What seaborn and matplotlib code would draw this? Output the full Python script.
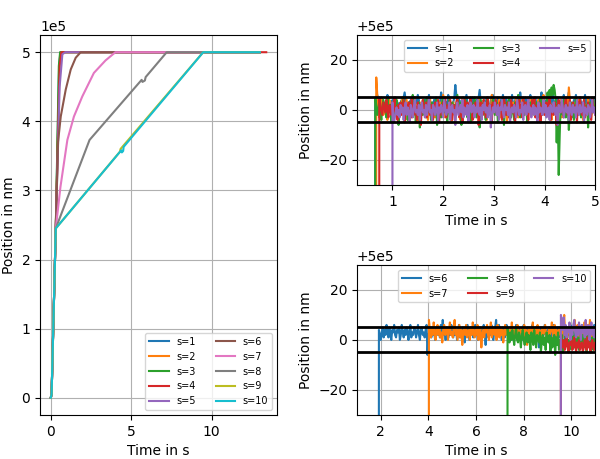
import numpy as np
import matplotlib
matplotlib.use("Agg")
import matplotlib.pyplot as plt
import seaborn as sns

# ---------------- left panel: full trajectories (time in s, position in nm) ----------------
t_s1 = [0, 0.05, 0.31, 0.52, 0.60, 13.0]
p_s1 = [0, 5000, 245000, 480000, 500000, 500000]
t_s2 = [0, 0.05, 0.31, 0.54, 0.63, 13.0]
p_s2 = [0, 5000, 245000, 480000, 500000, 500000]
t_s3 = [0, 0.05, 0.31, 0.50, 0.58, 13.0]
p_s3 = [0, 5000, 245000, 480000, 500000, 500000]
t_s4 = [0, 0.05, 0.31, 0.55, 0.66, 13.4]
p_s4 = [0, 5000, 245000, 480000, 500000, 500000]
t_s5 = [0, 0.05, 0.31, 0.55, 0.72, 0.90, 13.0]
p_s5 = [0, 5000, 245000, 450000, 497000, 500000, 500000]
t_s6 = [0, 0.05, 0.31, 0.45, 0.62, 0.93, 1.24, 1.55, 1.86, 13.0]
p_s6 = [0, 5000, 245000, 370000, 407000, 446000, 475000, 492000, 500000, 500000]
t_s7 = [0, 0.05, 0.31, 0.60, 1.03, 1.44, 1.96, 2.68, 3.40, 4.02, 13.0]
p_s7 = [0, 5000, 245000, 305000, 373000, 407000, 436000, 470000, 488000, 500000, 500000]
t_s8 = [0, 0.05, 0.31, 2.41, 5.65, 5.70, 5.85, 5.90, 7.21, 13.0]
p_s8 = [0, 5000, 245000, 373000, 460000, 457000, 459000, 464000, 500000, 500000]
t_s9 = [0, 0.05, 0.31, 4.30, 4.34, 9.48, 13.0]
p_s9 = [0, 5000, 245000, 356000, 360000, 500000, 500000]
t_s10 = [0, 0.05, 0.31, 4.38, 4.42, 4.50, 4.53, 9.48, 13.0]
p_s10 = [0, 5000, 245000, 358000, 355000, 357000, 363000, 500000, 500000]

left_times = [t_s1, t_s2, t_s3, t_s4, t_s5, t_s6, t_s7, t_s8, t_s9, t_s10]
left_pos = [p_s1, p_s2, p_s3, p_s4, p_s5, p_s6, p_s7, p_s8, p_s9, p_s10]
labels_left = [f"s={i}" for i in range(1, 11)]

# ---------------- right panels: settling, deviation from target (nm) ----------------
target = 500000
tolerance = 5

# top panel (s=1..5): start time (s), sample step (s), deviation values (nm)
start_top = [0.64, 0.66, 0.64, 0.72, 0.98]
dt_top = 0.02
dev_s1 = [-900, 3, 5, 6, 2, 1, 3, 5, 4, 2, 0, 1, 4, 6, 5, 3, 1, 2, 4, 3,
          1, 5, 2, 3, 0, -1, 2, 4, 3, 5, 7, 4, 2, 1, 3, 2, 4, 0, 1, 3,
          5, 3, 2, 6, 4, 1, 2, -2, 0, 3, 4, 2, 5, 3, 6, 1, 2, 3, 0, 4,
          2, 5, 3, 1, 0, 3, 7, 5, 2, 4, 1, 3, 2, 6, 4, 1, -1, 2, 3, 5,
          10, 6, 3, 2, 4, 1, 0, 3, 5, 2, 4, 6, 3, 1, 2, 4, 3, 5, 2, 3,
          1, 4, 2, 5, 8, 3, 2, 0, 4, 1, 3, 5, 2, -2, 1, 4, 3, 6, 2, 4,
          1, 3, 5, 2, 0, 4, 3, 6, 2, 1, 5, 3, 2, 4, 0, 3, 6, 1, 2, 4,
          3, 5, 1, 2, 7, 4, 2, 3, 0, 5, 2, 4, 1, 3, 6, 2, 4, 1, 3, 5,
          2, 0, 4, 3, 1, 7, 3, 2, 4, -1, 2, 5, 3, 4, 1, 3, 6, 2, 0, 4,
          3, 5, 1, 2, 4, 3, 0, 6, 2, 1, 4, 5, 7, 2, 3, -3, 1, 4, 3, 6,
          2, 4, 1, 5, 3, 0, 2, 4, 6, 2, 3, 5, 1, 4, 2, 3, 0, 5, 2, 4,
          3, 1, 4]
dev_s2 = [-900, 13, 6, 0, -3, 2, 5, 1, -2, 0, 3, 1, -4, 2, 4, 0, -1, 3, 1, -2,
          0, 4, -3, 1, 2, -1, 3, 5, 0, -2, 1, 4, -4, 0, 2, 1, -3, 3, 0, 5,
          -1, 2, -5, 1, 3, 0, -2, 4, 1, -1, 2, 0, -4, 3, 5, 1, -2, 0, 2, -3,
          1, 4, 0, -1, 3, -2, 1, 6, 0, -3, 2, 1, -1, 4, 0, -5, 2, 3, -2, 1,
          0, 3, -1, 2, -4, 1, 5, 0, -2, 3, 1, -1, 2, 0, 4, -3, 1, 2, -2, 0,
          3, -1, 5, 1, -3, 0, 2, 4, -1, 1, -4, 3, 0, 2, -2, 6, 1, -1, 0, 3,
          -2, 1, 4, 0, -3, 2, 1, -1, 3, 0, -5, 2, 4, 1, -2, 0, 3, -1, 2, 5,
          0, -3, 1, 2, -1, 4, 0, -2, 3, 1, -4, 0, 2, 5, -1, 1, 3, -2, 0, 2,
          -1, 4, 1, -3, 0, 2, 6, 1, -2, 3, 0, -1, 4, 2, -4, 1, 0, 3, -2, 1,
          2, -1, 0, 4, -3, 1, 3, 0, -2, 5, 1, 9, 4, -1, 2, 0, -3, 3, 1, -2,
          0, 4, 2, -1, 1, -4, 3, 0, 2, -2, 5, 1, 0, -3, 2, 4, -1, 1, 3, 0,
          -2, 2, 1]
dev_s3 = [-900, 5, 2, -2, 0, 3, -1, -4, 1, 4, 2, 0, -3, 5, 1, -1, 2, -5, 0, 3,
          1, -2, 4, 0, -6, 2, 3, -1, 1, 5, -3, 0, 2, -4, 1, 3, -2, 0, 6, -1,
          2, -5, 1, 0, 3, -7, 2, 1, -2, 4, 0, -3, 5, 1, -1, 2, -4, 3, 0, 1,
          -2, 4, -6, 1, 2, 0, -3, 3, 5, -1, 0, 2, -5, 1, 4, -2, 0, 3, -1, 2,
          -4, 1, 6, 0, -2, 3, -6, 1, 2, -1, 4, 0, -3, 2, 1, -5, 3, 0, -1, 5,
          1, -3, 2, 0, -7, 4, 1, -2, 3, 0, -4, 2, 5, -1, 1, 0, -3, 4, 2, -2,
          0, 3, -5, 1, 2, -1, 4, 0, -6, 2, 3, -2, 1, 5, 0, -3, 2, 1, -4, 3,
          0, -1, 6, 2, -3, 1, 0, 4, -2, 3, 1, -5, 2, 0, 3, -1, 4, 1, -2, 0,
          3, 1, -3, 2, 5, 0, -2, 4, 1, -1, 3, 7, 4, 8, 5, 9, 6, 10, 8, 4,
          -13, 2, -26, -10, 3, 1, -2, 4, 0, -3, 2, 1, -8, 0, 3, -1, 2, -4, 1, 5,
          0, -2, 3, 1, -3, 2, 0, 4, -1, 1, 2, -7, 0, 3, -2, 1, 4, 0, -1, 2,
          1, -3, 2]
dev_s4 = [-900, 5, 2, 0, -2, 3, 1, -1, 4, 0, -3, 2, 1, -2, 3, 0, 5, -1, 1, -4,
          2, 0, 3, -2, 1, 4, -5, 0, 2, -1, 3, 1, -3, 5, 0, -2, 2, 1, -4, 3,
          0, 1, -6, 2, 4, -1, 0, 3, -3, 1, 5, -2, 0, 2, -4, 1, 3, 0, -1, 4,
          -5, 2, 1, -2, 3, 0, 5, -3, 1, 2, -1, 4, 0, -4, 2, 1, -2, 3, 5, 0,
          -3, 1, 2, -5, 0, 4, 1, -1, 3, -2, 0, 5, 2, -4, 1, 0, 3, -1, 2, -6,
          1, 3, 0, -2, 4, 2, -3, 1, 5, 0, -1, 2, -5, 3, 1, 0, 4, -2, 2, -1,
          3, 0, -4, 1, 5, 2, -2, 0, 3, -3, 1, 4, -1, 2, 0, -5, 3, 1, -2, 4,
          0, 2, -3, 5, 1, -1, 3, 0, -4, 2, 1, -2, 4, 0, 5, -3, 1, 2, -1, 3,
          -5, 0, 2, 4, -2, 1, 3, -1, 0, 5, -4, 2, 1, -2, 3, 0, -6, 2, 4, 1,
          -1, 3, 0, -3, 2, 5, 1, -2, 0, 4, -4, 1, 3, 0, -1, 2, -5, 3, 1, 5,
          0, -2, 2, 4, -3, 1, 0, 3, -1, 2, -4, 5, 1, 0, -2, 3, 1, -1, 4, 0]
dev_s5 = [-900, 3, -5, -4, -1, 1, -2, 0, -3, 2, -1, 1, -4, 0, 3, -2, 1, -1, -5, 2,
          0, -3, 1, 4, -1, 0, -2, 2, -4, 1, 3, -1, 0, -3, 2, -2, 1, 5, -1, 0,
          -4, 2, 1, -2, 0, 3, -5, 1, -1, 2, 0, -3, 4, 1, -2, 0, -1, 3, -4, 1,
          2, -1, 0, -6, 1, 3, -2, 0, 2, -1, 4, -3, 1, 0, -2, 2, -5, 1, 3, -1,
          0, 2, -3, 1, -1, 4, 0, -2, 1, -4, 2, 0, 3, -1, 1, -3, 0, 2, -7, -2,
          1, -1, 3, 0, -2, 2, -4, 1, 0, 4, -1, -3, 2, 0, 1, -2, 3, -5, 0, 1,
          -1, 2, 0, -3, 4, 1, -2, 0, -1, 3, -4, 1, 2, -2, 0, 5, -1, 1, -3, 0,
          2, -2, 1, 0, -5, 3, -1, 1, 0, -2, 4, -1, 2, -3, 0, 1, -4, 2, 0, -1,
          3, 0, -2, 1, -6, 2, 0, -1, 4, 1, -3, 0, 2, -1, 1, -4, 3, 0, -2, 2,
          -1, 1, -3, 4, 0, -2, 2, -1, 0, 3, -5, 1, 0, -2, 2, 1, -3, 0, 4, -1,
          1, -2, 0, 3, -1]
dev_top = [dev_s1, dev_s2, dev_s3, dev_s4, dev_s5]
labels_top = ["s=1", "s=2", "s=3", "s=4", "s=5"]

# bottom panel (s=6..10)
start_bot = [1.88, 3.98, 7.28, 9.52, 9.52]
dt_bot = 0.04
dev_s6 = [-900, 4, 2, 0, 3, 5, 1, 4, 2, 6, 3, 1, 5, 2, 0, 4, 3, 6, 2, 1,
          4, 3, 5, 0, 2, 6, 3, 1, 4, 2, 5, 3, 0, 4, 6, 1, 3, 2, 5, 4,
          1, 3, 6, 2, 0, 4, 5, 2, 3, 1, 4, 6, -6, 2, 3, 5, 1, 4, 2, 3,
          0, 5, 3, 2, 4, 1, 6, 3, 8, 2, 4, 0, 5, 3, 1, 4, 2, 6, 3, 1,
          5, 2, 4, 0, 3, 6, 1, 4, 2, 5, 3, -1, 4, 2, 6, 3, 0, 5, 2, 4,
          1, 3, 6, 2, 4, 0, 5, 3, 1, 4, 2, 6, 3, -2, 4, 5, 1, 3, 2, 6,
          4, 0, 3, 5, 8, 1, 4, 6, 3, 2, 0, 5, 4, 1, 3, 6, 2, 4, 1, 3,
          5, 2, 0, 4, 3, 6, 1, 2, 5, 3, 4, 0, 2, 6, 3, 1, 4, 5, 2, 3,
          0, 4, 6, 2, 3, 1, 5, 4, 2, -3, 3, 5, 1, 4, 2, 6, 3, 0, 4, 2,
          5, 3, 1, 4, 6, 2, 3, 0, 4, 5, 2, 1, 3, 6, 4, 2, 0, 5, 3, 1,
          4, 2, 6, 3, 1, 5, 2, 4, 0, 3, 5, 1, 4, 2, 6, 3, 2, 4, 1, 5,
          3, 0, 4, 2, 5, 1, 3, 6, 2, 4, 0, 3, 5, 2, 1, 4]
dev_s7 = [-900, 8, 4, 1, 5, 2, 7, 3, 0, 4, 6, 2, 5, 1, 3, -1, 4, 6, 2, 3,
          5, 0, 4, 7, 2, 3, 1, 5, 8, 2, 4, 0, 3, 6, 1, 4, -2, 3, 5, 2,
          6, 1, 3, 4, 0, 5, 2, 7, 3, 1, 4, 2, 6, 0, 3, 5, -3, 2, 4, 1,
          5, 3, 6, 2, 0, 4, 7, 1, 3, 5, 2, 4, 0, 6, 3, 1, 5, 2, 4, -1,
          3, 6, 2, 5, 1, 4, 0, 3, 7, 2, 4, 1, 5, 3, 6, 0, 2, 4, 3, 5,
          1, 6, 2, 4, -2, 3, 5, 1, 4, 2, 7, 0, 3, 5, 2, 6, 1, 4, 3, 0,
          5, 2, 4, 6, 1, 3, 0, 5, 2, 4, 7, 3, 1, 6, 2, 4, 0, 3, 5, 2,
          4, 1, 6, 10, 2, 5, 0, 4, 3, 6, 1, 2, 5, 4, 8, 3, 2, 6, 1, 4,
          0, 5, 3, 2, 7, 4, 1, 6, 3, 2, 8, 4, 1, 5, 3, 0, 4, 6, 2, 3,
          5, 1, 4]
dev_s8 = [-900, 5, 2, -1, 3, 0, 4, 1, -2, 2, 5, 0, -1, 3, 1, -3, 2, 4, 0, -2,
          1, 3, -1, 2, 0, -4, 3, 1, -2, 4, 0, -3, 2, 1, -1, 3, -5, 0, 2, -2,
          1, -4, 3, 0, -1, 2, -5, 1, -3, 0, 2, -6, 1, -2, 3, -4, 0, -1, 2, -5,
          0, -3, 1, 3, -2, 0, -4, 2, 1, -1, 3, -3, 0, 2, -2, 1, -4, 0, 3, -1,
          2, -3, 1, 0, -5, 2, -1, 3, 0, -2, 1, -4, 2, 0, -1, 3]
dev_s9 = [-900, 2, -1, -3, 0, -4, -2, 1, -3, -5, -1, -2, 0, -4, -3, 1, -2, -5, -1, -3,
          0, -4, -2, -1, -5, -3, 0, -2, -4, 1, -3, -1, -5, -2, 0, -3, -4, -1, -2, -3]
dev_s10 = [-900, 10, 8, 4, 9, 2, 6, 1, 5, 3, 7, 0, 4, 2, 6, 8, 3, 1, 5, 2,
           7, 4, 0, 6, 3, 5, 1, 8, 2, 4, 6, 0, 3, 7, 2, 5, 1, 4, 6, 3]
dev_bot = [dev_s6, dev_s7, dev_s8, dev_s9, dev_s10]
labels_bot = ["s=6", "s=7", "s=8", "s=9", "s=10"]


def sample_times(start, dt, n):
    return start + dt * np.arange(n)


palette = sns.color_palette("tab10")

fig = plt.figure(figsize=(6, 4.59), dpi=100)
ax_l = fig.add_axes([0.0667, 0.0959, 0.395, 0.828])
ax_t = fig.add_axes([0.595, 0.597, 0.397, 0.327])
ax_b = fig.add_axes([0.595, 0.0959, 0.397, 0.327])

# left
for i, (t, p) in enumerate(zip(left_times, left_pos)):
    sns.lineplot(x=t, y=p, ax=ax_l, color=palette[i], lw=1.5,
                 label=labels_left[i], estimator=None, sort=False)
ax_l.ticklabel_format(axis="y", style="sci", scilimits=(0, 0))
ax_l.grid(True)
ax_l.set_xlabel("Time in s")
ax_l.set_ylabel("Position in nm")
ax_l.set_xticks([0, 5, 10])
ax_l.legend(loc="lower right", ncol=2, fontsize=7)


def settle_panel(ax, starts, dt, devs, labels, xlim, xticks):
    for i, (s0, d) in enumerate(zip(starts, devs)):
        d = np.asarray(d, dtype=float)
        t = sample_times(s0, dt, len(d))
        sns.lineplot(x=t, y=target + d, ax=ax, color=palette[i], lw=1.5,
                     label=labels[i], estimator=None, sort=False)
    ax.axhline(target + tolerance, color="k", lw=2)
    ax.axhline(target - tolerance, color="k", lw=2)
    ax.set_xlim(*xlim)
    ax.set_ylim(target - 30, target + 30)
    ax.set_yticks([target - 20, target, target + 20])
    ax.set_xticks(xticks)
    ax.grid(True)
    ax.set_xlabel("Time in s")
    ax.set_ylabel("Position in nm")
    ax.legend(loc="upper right", ncol=3, fontsize=7)


settle_panel(ax_t, start_top, dt_top, dev_top, labels_top, (0.3, 5), [1, 2, 3, 4, 5])
settle_panel(ax_b, start_bot, dt_bot, dev_bot, labels_bot, (1, 11), [2, 4, 6, 8, 10])

fig.savefig("out.png", dpi=100)
